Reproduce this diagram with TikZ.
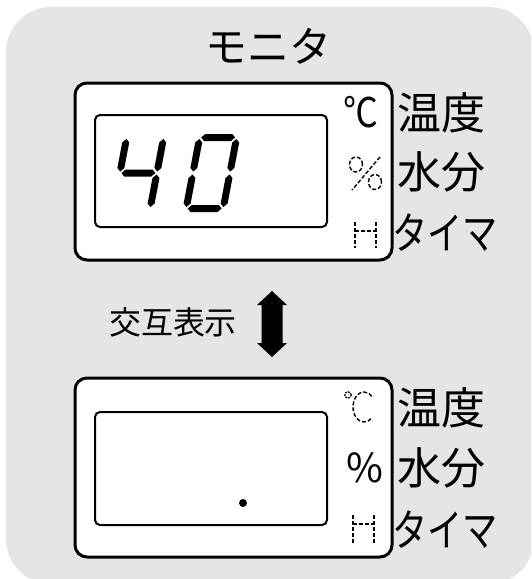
\documentclass[tikz,border=0pt]{standalone}
\usepackage{fontspec}
\newfontfamily\jp{Noto Sans CJK JP}
\newcommand\hsg[3]{\fill (#1,#3) -- (#1+3.5,#3+3.5) -- (#2-3.5,#3+3.5) -- (#2,#3) -- (#2-3.5,#3-3.5) -- (#1+3.5,#3-3.5) -- cycle;}
\newcommand\vsg[3]{\fill (#1,#2) -- (#1+3.5,#2+3.5) -- (#1+3.5,#3-3.5) -- (#1,#3) -- (#1-3.5,#3-3.5) -- (#1-3.5,#2+3.5) -- cycle;}
\begin{document}
\begin{tikzpicture}[x=1pt,y=-1pt,
  lbl/.style={font=\jp\fontsize{44}{44}\selectfont, inner sep=0pt},
  ttl/.style={font=\jp\fontsize{42}{42}\selectfont, inner sep=0pt},
  small/.style={font=\jp\fontsize{32}{32}\selectfont, inner sep=0pt},
  sym/.style={font=\jp\fontsize{41}{41}\selectfont, inner sep=0pt},
  outerbox/.style={draw=black, fill=white, line width=3pt, rounded corners=12pt},
  innerbox/.style={draw=black, fill=white, line width=2pt, rounded corners=5pt},
  dsh/.style={line width=1.4pt, dash pattern=on 4pt off 2pt},
  digit/.style={x=1pt, y=1pt, xslant=0.19}]
\useasboundingbox (0,0) rectangle (531,579);
\fill[white] (0,0) rectangle (531,579);
\begin{scope}
\clip (0,0) rectangle (531,579);
\fill[rounded corners=45pt, fill={rgb,255:red,229;green,229;blue,229}] (6,7) rectangle (534,584);
\end{scope}

\node[ttl] (title) at (268.5,46) {モニタ};

% top monitor
\draw[outerbox] (75,83) rectangle (392,260);
\draw[innerbox] (95,115) rectangle (327,227);
\begin{scope}[shift={(109,212)}, digit]
  \vsg{3.5}{40.5}{73}
  \hsg{5}{39}{39}
  \vsg{40.5}{40.5}{73}
  \vsg{40.5}{5}{37.5}
\end{scope}
\begin{scope}[shift={(182,212)}, digit]
  \hsg{5}{39}{74.5}
  \vsg{3.5}{40.5}{73}
  \vsg{40.5}{40.5}{73}
  \vsg{3.5}{5}{37.5}
  \vsg{40.5}{5}{37.5}
  \hsg{5}{39}{3.5}
\end{scope}
\node[sym] (degT) at (361,112) {\scalebox{0.85}[1]{℃}};
\draw[dsh] (356,164.5) ellipse [x radius=6.5pt, y radius=7.5pt];
\draw[dsh] (375,182) ellipse [x radius=6.5pt, y radius=7.5pt];
\draw[dsh] (380,157) -- (352,190);
\draw[dsh] (355,222) -- (355,248);
\draw[dsh] (376,222) -- (376,248);
\draw[dsh] (355,231) -- (376,231);
\node[lbl] (tempT) at (441.5,112.5) {温度};
\node[lbl] (moistT) at (441.5,172) {水分};
\node[lbl] (timerT) at (445,232.5) {\scalebox{0.8}[1]{タイマ}};

% alternate arrow
\node[small] (alt) at (173,322.5) {交互表示};
\fill (272,291) -- (287,305) -- (282.5,305) -- (282.5,343) -- (287,343) -- (272,357) -- (257,343) -- (261.5,343) -- (261.5,305) -- (257,305) -- cycle;

% bottom monitor
\draw[outerbox] (75,378) rectangle (392,557);
\draw[innerbox] (95,412) rectangle (327,525);
\fill (243,503) circle (4pt);
\draw[line width=1.2pt, dash pattern=on 2pt off 1pt] (348,395) circle (3.2pt);
\draw[dsh] (371.8,396.4) arc[start angle=45, end angle=315, x radius=11pt, y radius=15pt];
\node[font=\jp\fontsize{40}{40}\selectfont, inner sep=0pt] (pctB) at (365,467.5) {\%};
\draw[dsh] (353,515) -- (353,543);
\draw[dsh] (374,515) -- (374,543);
\draw[dsh] (353,524) -- (374,524);
\node[lbl] (tempB) at (441.5,407.5) {温度};
\node[lbl] (moistB) at (441.5,467.5) {水分};
\node[lbl] (timerB) at (445,529.5) {\scalebox{0.8}[1]{タイマ}};
\end{tikzpicture}
\end{document}
